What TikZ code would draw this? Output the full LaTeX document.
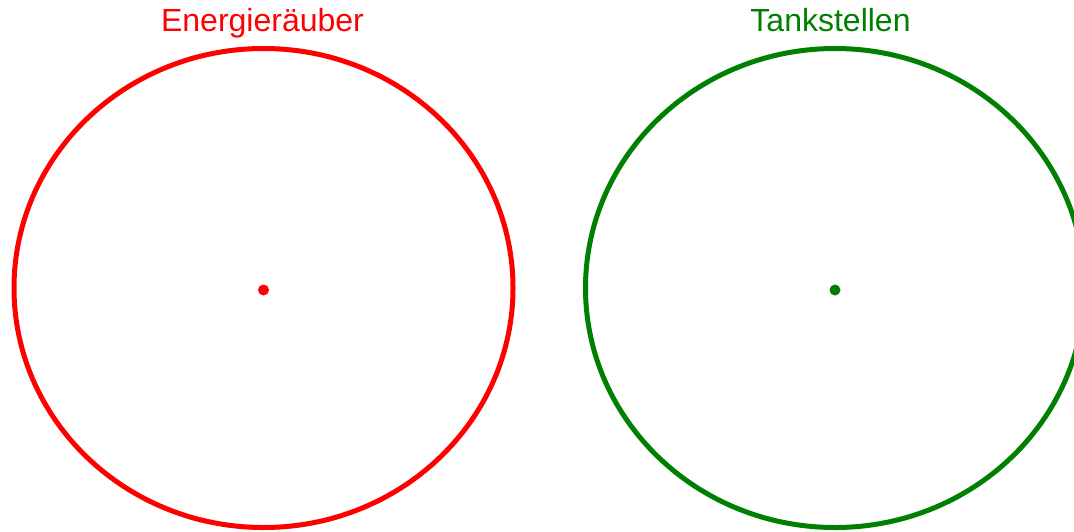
\documentclass[tikz,border=0pt]{standalone}
\usepackage{fontspec}
\setmainfont{Liberation Sans}
\usetikzlibrary{shapes.geometric}
\definecolor{webgreen}{RGB}{0,128,0}
\begin{document}
\begin{tikzpicture}[x=1pt,y=-1pt,
  ring/.style={ellipse,line width=5pt,line join=round,line cap=round,inner sep=0pt,minimum width=499pt,minimum height=479pt},
  dotmark/.style={circle,inner sep=0pt,minimum size=11pt},
  title/.style={font=\fontsize{32}{38}\selectfont,anchor=base}]
\useasboundingbox (0,0) rectangle (1074,531);
\clip (0,0) rectangle (1074,531);
\node[ring,draw=red] (redring) at (263.5,288) {};
\node[ring,draw=webgreen] (greenring) at (835,288) {};
\node[dotmark,fill=red] (reddot) at (263.5,290) {};
\node[dotmark,fill=webgreen] (greendot) at (835,290) {};
\node[title,text=red] (redtitle) at (262.5,31) {Energieräuber};
\node[title,text=webgreen] (greentitle) at (830.5,31) {Tankstellen};
\end{tikzpicture}
\end{document}
